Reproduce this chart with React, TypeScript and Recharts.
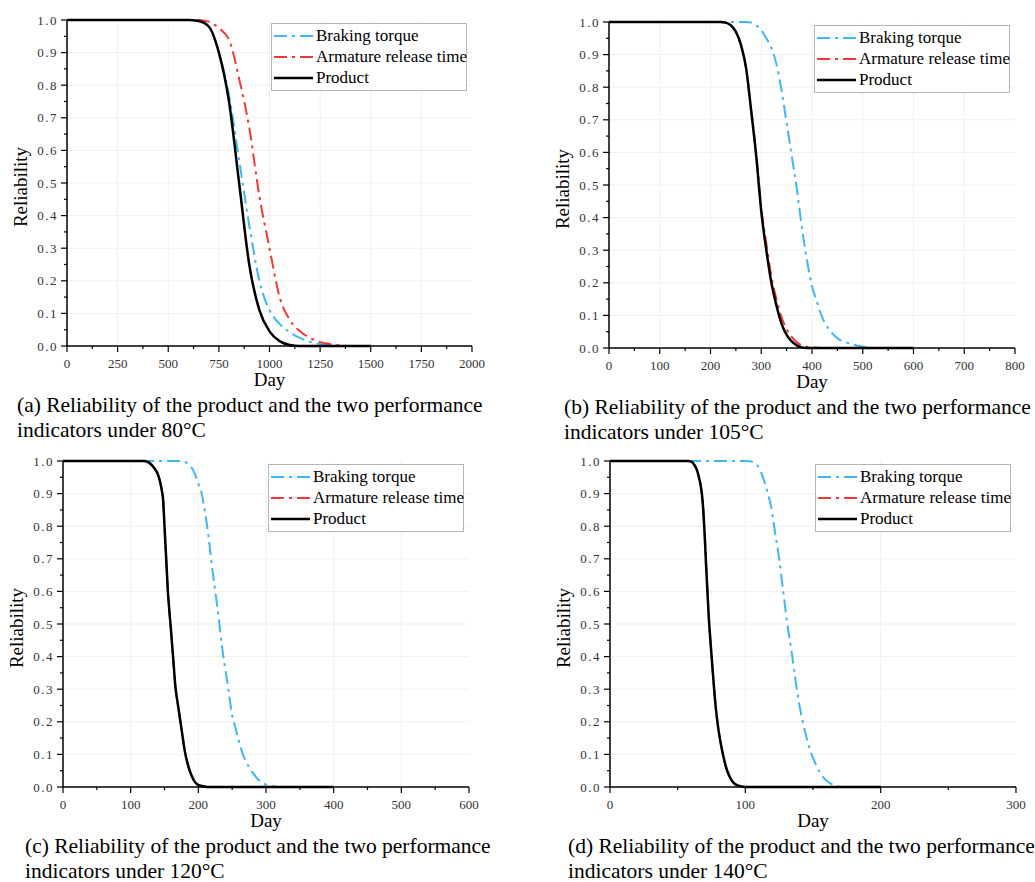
import React from 'react';
import { LineChart, Line, XAxis, YAxis, ReferenceLine, Legend } from 'recharts';

// ---- data ----
const reliabilityTicks = [
  0, 0.05, 0.1, 0.15, 0.2, 0.25, 0.3, 0.35, 0.4, 0.45, 0.5,
  0.55, 0.6, 0.65, 0.7, 0.75, 0.8, 0.85, 0.9, 0.95, 1,
];

// (a) 80°C
const daysA = [0, 500, 600, 650, 700, 750, 800, 850, 900, 950, 1000, 1050, 1100, 1150, 1200, 1250, 1300, 1350, 1400, 1450, 1500];
const torqueA = [1, 1, 1, 0.997, 0.98, 0.9, 0.77, 0.57, 0.37, 0.2, 0.11, 0.068, 0.042, 0.025, 0.013, 0.006, 0.002, 0, 0, 0, 0];
const armatureA = [1, 1, 1, 1, 0.995, 0.975, 0.94, 0.82, 0.67, 0.46, 0.3, 0.15, 0.08, 0.045, 0.025, 0.012, 0.006, 0.002, 0, 0, 0];
const productA = [1, 1, 1, 0.997, 0.98, 0.9, 0.75, 0.5, 0.25, 0.11, 0.045, 0.015, 0.003, 0, 0, 0, 0, 0, 0, 0, 0];
const xTicksA = [0, 125, 250, 375, 500, 625, 750, 875, 1000, 1125, 1250, 1375, 1500, 1625, 1750, 1875, 2000];

// (b) 105°C
const daysB = [0, 200, 220, 230, 240, 250, 260, 270, 280, 290, 300, 310, 320, 330, 340, 350, 360, 370, 380, 390, 400, 410, 420, 430, 440, 450, 470, 490, 510, 530, 600];
const torqueB = [1, 1, 1, 1, 1, 1, 1, 1, 0.998, 0.99, 0.975, 0.95, 0.92, 0.87, 0.79, 0.69, 0.59, 0.49, 0.37, 0.27, 0.19, 0.14, 0.095, 0.065, 0.045, 0.03, 0.016, 0.007, 0.002, 0, 0];
const armatureB = [1, 1, 1, 0.998, 0.99, 0.97, 0.93, 0.86, 0.73, 0.6, 0.43, 0.32, 0.22, 0.15, 0.095, 0.058, 0.034, 0.018, 0.008, 0.004, 0.002, 0.001, 0, 0, 0, 0, 0, 0, 0, 0, 0];
const productB = [1, 1, 1, 0.998, 0.99, 0.97, 0.93, 0.86, 0.73, 0.59, 0.42, 0.3, 0.2, 0.13, 0.075, 0.04, 0.02, 0.008, 0.002, 0, 0, 0, 0, 0, 0, 0, 0, 0, 0, 0, 0];
const xTicksB = [0, 50, 100, 150, 200, 250, 300, 350, 400, 450, 500, 550, 600, 650, 700, 750, 800];

// (c) 120°C
const daysC = [0, 100, 120, 125, 130, 135, 140, 143, 146, 148, 150, 152, 155, 158, 160, 163, 166, 170, 175, 180, 185, 190, 195, 200, 205, 210, 215, 220, 225, 230, 235, 240, 245, 250, 255, 260, 265, 270, 280, 290, 300, 310, 320, 400];
const torqueC = [1, 1, 1, 1, 1, 1, 1, 1, 1, 1, 1, 1, 1, 1, 1, 1, 1, 1, 1, 0.998, 0.99, 0.98, 0.96, 0.93, 0.9, 0.84, 0.77, 0.68, 0.6, 0.52, 0.43, 0.36, 0.29, 0.22, 0.18, 0.14, 0.105, 0.08, 0.045, 0.02, 0.007, 0.002, 0, 0];
const armatureC = [1, 1, 1, 0.997, 0.99, 0.978, 0.96, 0.94, 0.91, 0.88, 0.8, 0.72, 0.6, 0.52, 0.47, 0.39, 0.31, 0.25, 0.18, 0.11, 0.066, 0.036, 0.016, 0.006, 0.003, 0.001, 0, 0, 0, 0, 0, 0, 0, 0, 0, 0, 0, 0, 0, 0, 0, 0, 0, 0];
const productC = [1, 1, 1, 0.997, 0.99, 0.978, 0.96, 0.94, 0.91, 0.88, 0.8, 0.72, 0.6, 0.52, 0.47, 0.39, 0.31, 0.25, 0.18, 0.11, 0.065, 0.035, 0.015, 0.006, 0.003, 0.001, 0, 0, 0, 0, 0, 0, 0, 0, 0, 0, 0, 0, 0, 0, 0, 0, 0, 0];
const xTicksC = [0, 50, 100, 150, 200, 250, 300, 350, 400, 450, 500, 550, 600];

// (d) 140°C
const daysD = [0, 50, 58, 60, 62, 64, 66, 67, 68, 69, 70, 71, 72, 73, 74, 75, 76, 78, 80, 82, 84, 86, 88, 90, 92, 95, 98, 100, 105, 108, 110, 113, 116, 119, 122, 125, 128, 131, 134, 137, 140, 143, 146, 149, 152, 155, 158, 162, 166, 170, 175, 200];
const torqueD = [1, 1, 1, 1, 1, 1, 1, 1, 1, 1, 1, 1, 1, 1, 1, 1, 1, 1, 1, 1, 1, 1, 1, 1, 1, 1, 1, 1, 0.998, 0.99, 0.98, 0.95, 0.91, 0.86, 0.78, 0.7, 0.6, 0.5, 0.42, 0.33, 0.25, 0.19, 0.14, 0.1, 0.07, 0.045, 0.028, 0.013, 0.005, 0.001, 0, 0];
const armatureD = [1, 1, 1, 0.998, 0.99, 0.975, 0.945, 0.925, 0.895, 0.845, 0.77, 0.68, 0.6, 0.52, 0.46, 0.405, 0.35, 0.25, 0.18, 0.13, 0.09, 0.058, 0.036, 0.021, 0.011, 0.004, 0.001, 0, 0, 0, 0, 0, 0, 0, 0, 0, 0, 0, 0, 0, 0, 0, 0, 0, 0, 0, 0, 0, 0, 0, 0, 0];
const productD = [1, 1, 1, 0.998, 0.99, 0.975, 0.945, 0.925, 0.895, 0.845, 0.77, 0.68, 0.6, 0.52, 0.46, 0.405, 0.35, 0.25, 0.18, 0.13, 0.09, 0.057, 0.035, 0.02, 0.01, 0.004, 0.001, 0, 0, 0, 0, 0, 0, 0, 0, 0, 0, 0, 0, 0, 0, 0, 0, 0, 0, 0, 0, 0, 0, 0, 0, 0];
const xTicksD = [0, 50, 100, 150, 200, 250, 300];

const seriesNames = ['Braking torque', 'Armature release time', 'Product'];

const SERIF = '"Liberation Serif", "Times New Roman", serif';
const BLUE = '#3fb6f6';
const RED = '#f03a3a';
const DASH_DOT = '13 5 3 5';
const GRID = '#f1f1e8';
const seriesColors = [BLUE, RED, '#000'];

type Panel = {
  key: string;
  days: number[];
  torque: number[];
  armature: number[];
  product: number[];
  xTicks: number[];
  xMax: number;
  left: number;
  top: number;
  w: number;
  h: number;
  caption: string[];
  captionLeft: number;
};

const panels: Panel[] = [
  {
    key: 'a', days: daysA, torque: torqueA, armature: armatureA, product: productA,
    xTicks: xTicksA, xMax: 2000, left: 67, top: 20, w: 405, h: 326,
    caption: ['(a) Reliability of the product and the two performance', 'indicators under 80\u00B0C'],
    captionLeft: 17,
  },
  {
    key: 'b', days: daysB, torque: torqueB, armature: armatureB, product: productB,
    xTicks: xTicksB, xMax: 800, left: 609, top: 22, w: 406, h: 326,
    caption: ['(b) Reliability of the product and the two performance', 'indicators under 105\u00B0C'],
    captionLeft: 564,
  },
  {
    key: 'c', days: daysC, torque: torqueC, armature: armatureC, product: productC,
    xTicks: xTicksC, xMax: 600, left: 63, top: 461, w: 406, h: 326,
    caption: ['(c) Reliability of the product and the two performance', 'indicators under 120\u00B0C'],
    captionLeft: 25,
  },
  {
    key: 'd', days: daysD, torque: torqueD, armature: armatureD, product: productD,
    xTicks: xTicksD, xMax: 300, left: 610, top: 461, w: 406, h: 326,
    caption: ['(d) Reliability of the product and the two performance', 'indicators under 140\u00B0C'],
    captionLeft: 568,
  },
];

const isMajorY = (v: number) => Math.abs(v * 10 - Math.round(v * 10)) < 1e-6;

const YTick = (props: any) => {
  const { x, y, payload } = props;
  const major = isMajorY(payload.value);
  return (
    <g>
      <line x1={x} y1={y} x2={x - (major ? 6 : 3)} y2={y} stroke="#000" strokeWidth={1.2} />
      {major && (
        <text x={x - 9} y={y} textAnchor="end" dominantBaseline="central" fontFamily={SERIF}
          fontSize={13} fill="#333" letterSpacing={1.5}>
          {payload.value.toFixed(1)}
        </text>
      )}
    </g>
  );
};

const makeXTick = (ticks: number[]) => (props: any) => {
  const { x, y, payload } = props;
  const major = ticks.indexOf(payload.value) % 2 === 0;
  return (
    <g>
      <line x1={x} y1={y} x2={x} y2={y + (major ? 6 : 3)} stroke="#000" strokeWidth={1.2} />
      {major && (
        <text x={x} y={y + 17} textAnchor="middle" dominantBaseline="central" fontFamily={SERIF}
          fontSize={13} fill="#333">
          {payload.value}
        </text>
      )}
    </g>
  );
};

// legend drawn in the original series order
const LegendBox = () => (
  <div style={{ border: '1px solid #b5b5b5', background: '#fff', width: 196, padding: '1px 0 2px',
    fontFamily: SERIF, fontSize: 17, color: '#000', boxSizing: 'border-box' }}>
    {seriesNames.map((name, i) => (
      <div key={name} style={{ display: 'flex', alignItems: 'center', height: 21 }}>
        <svg width={42} height={10} style={{ flex: 'none' }}>
          <line x1={2} y1={5} x2={41} y2={5} stroke={seriesColors[i]}
            strokeWidth={i === 2 ? 2.5 : 2}
            strokeDasharray={i === 2 ? undefined : DASH_DOT} />
        </svg>
        <span style={{ marginLeft: 2, whiteSpace: 'nowrap' }}>{name}</span>
      </div>
    ))}
  </div>
);

function ReliabilityPanel({ p }: { p: Panel }) {
  const data = p.days.map((d, i) => ({
    day: d,
    torque: p.torque[i],
    armature: p.armature[i],
    product: p.product[i],
  }));
  const majorX = p.xTicks.filter((_, i) => i % 2 === 0).slice(1, -1);
  const majorY = reliabilityTicks.filter(isMajorY).slice(1, -1);
  const cw = p.w + 80;
  const ch = p.h + 50;
  return (
    <>
      <div style={{ position: 'absolute', left: p.left - 60, top: p.top - 10, width: cw, height: ch }}>
        <LineChart width={cw} height={ch} data={data} margin={{ top: 10, right: 20, left: 0, bottom: 0 }}>
          {majorX.map((t) => (
            <ReferenceLine key={'gx' + t} x={t} stroke={GRID} strokeWidth={1} />
          ))}
          {majorY.map((t) => (
            <ReferenceLine key={'gy' + t} y={t} stroke={GRID} strokeWidth={1} />
          ))}
          <XAxis dataKey="day" type="number" domain={[0, p.xMax]} ticks={p.xTicks} interval={0}
            height={40} tickSize={0} tickMargin={0} tickLine={false}
            axisLine={{ stroke: '#000', strokeWidth: 1.5 }} tick={makeXTick(p.xTicks)} />
          <XAxis xAxisId="top" orientation="top" type="number" domain={[0, p.xMax]} height={0}
            tick={false} tickLine={false} axisLine={{ stroke: '#000', strokeWidth: 1.5 }} />
          <YAxis type="number" domain={[0, 1]} ticks={reliabilityTicks} interval={0} width={60}
            tickSize={0} tickMargin={0} tickLine={false}
            axisLine={{ stroke: '#000', strokeWidth: 1.5 }} tick={<YTick />} />
          <YAxis yAxisId="right" orientation="right" type="number" domain={[0, 1]} width={0}
            tick={false} tickLine={false} axisLine={{ stroke: '#000', strokeWidth: 1.5 }} />
          <Line type="monotone" dataKey="torque" name={seriesNames[0]} stroke={BLUE} strokeWidth={2}
            strokeDasharray={DASH_DOT} dot={false} activeDot={false} isAnimationActive={false} />
          <Line type="monotone" dataKey="armature" name={seriesNames[1]} stroke={RED} strokeWidth={2}
            strokeDasharray={DASH_DOT} dot={false} activeDot={false} isAnimationActive={false} />
          <Line type="monotone" dataKey="product" name={seriesNames[2]} stroke="#000" strokeWidth={2.5}
            dot={false} activeDot={false} isAnimationActive={false} />
          <Legend layout="vertical" align="center" verticalAlign="middle" content={<LegendBox />}
            wrapperStyle={{ top: 13, left: 60 + p.w - 5 - 196, width: 196 }} />
        </LineChart>
      </div>
      <div style={{ position: 'absolute', left: p.left + p.w / 2 - 40, width: 80, top: p.top + p.h + 23,
        textAlign: 'center', fontFamily: SERIF, fontSize: 19, lineHeight: '22px' }}>
        Day
      </div>
      <div style={{ position: 'absolute', left: p.left - 106, width: 120, top: p.top + p.h / 2 - 7,
        textAlign: 'center', fontFamily: SERIF, fontSize: 19, lineHeight: '22px', transform: 'rotate(-90deg)' }}>
        Reliability
      </div>
      <div style={{ position: 'absolute', left: p.captionLeft, top: p.top + p.h + 47,
        fontFamily: SERIF, fontSize: 21.5, lineHeight: '25px', whiteSpace: 'nowrap' }}>
        {p.caption.map((line) => (
          <div key={line}>{line}</div>
        ))}
      </div>
    </>
  );
}

export default function App() {
  return (
    <div style={{ position: 'absolute', left: 0, top: 0, width: 1035, height: 882, background: '#fff', overflow: 'hidden' }}>
      {panels.map((p) => (
        <ReliabilityPanel key={p.key} p={p} />
      ))}
    </div>
  );
}
